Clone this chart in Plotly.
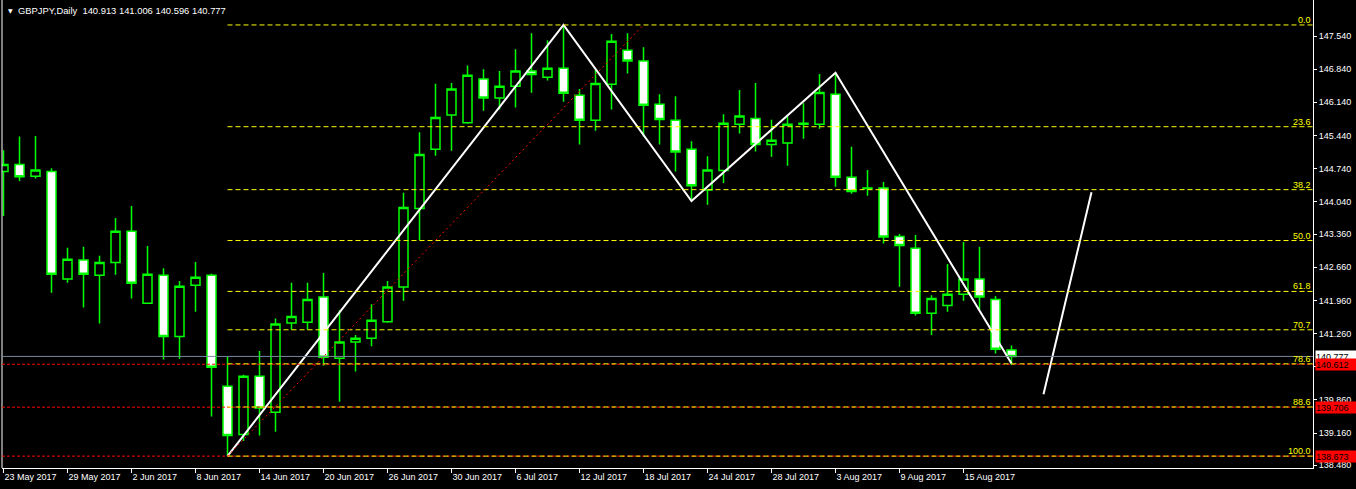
import plotly.graph_objects as go

# ---------------- data ----------------
bars = list(range(64))
opens = [144.68, 144.83, 144.58, 144.68, 142.41, 142.81, 142.49, 142.76, 143.42, 141.90,
         142.49, 141.20, 142.28, 142.49, 140.15, 139.13, 140.36, 139.60, 141.48, 141.50,
         142.03, 140.74, 141.08, 141.16, 141.51, 142.24, 143.90, 145.15, 145.87, 145.71,
         146.63, 146.23, 146.48, 146.80, 146.67, 146.86, 146.29, 145.76, 146.52, 147.24,
         147.01, 146.10, 145.76, 145.15, 144.29, 144.70, 145.68, 145.80, 145.25, 145.28,
         145.68, 145.68, 146.31, 144.56, 144.33, 144.33, 143.31, 143.06, 141.69, 141.85,
         142.09, 142.41, 141.98, 140.913]
highs = [145.13, 145.42, 145.43, 144.75, 143.07, 143.09, 142.90, 143.70, 143.95, 143.11,
         142.64, 142.37, 142.77, 142.52, 140.77, 140.39, 140.89, 141.58, 142.33, 142.33,
         142.54, 141.75, 141.23, 141.88, 142.37, 144.23, 145.51, 146.53, 146.55, 146.92,
         146.84, 146.80, 147.26, 147.60, 147.45, 147.773, 146.42, 146.82, 147.58, 147.60,
         147.30, 146.31, 146.27, 145.32, 145.00, 145.89, 146.40, 146.55, 145.77, 145.85,
         146.12, 146.74, 146.765, 145.20, 144.71, 144.46, 143.36, 143.34, 142.07, 142.73,
         143.19, 143.09, 142.05, 141.006]
lows = [143.74, 144.48, 144.53, 142.12, 142.33, 141.81, 141.47, 142.50, 142.00, 141.90,
        140.71, 140.73, 141.72, 139.51, 138.673, 138.99, 139.11, 139.19, 141.34, 141.34,
        140.58, 139.82, 140.46, 140.99, 141.49, 141.95, 143.23, 145.01, 145.12, 145.69,
        145.96, 145.99, 146.03, 146.34, 146.60, 146.15, 145.25, 145.54, 145.99, 146.75,
        145.42, 145.25, 144.68, 144.06, 143.98, 144.44, 145.48, 145.10, 144.99, 144.80,
        145.37, 145.58, 144.36, 144.21, 144.17, 143.16, 142.25, 141.64, 141.23, 141.72,
        141.95, 141.76, 140.84, 140.596]
closes = [144.83, 144.57, 144.71, 142.51, 142.83, 142.51, 142.76, 143.42, 142.32, 142.51,
          141.20, 142.26, 142.45, 140.55, 139.11, 140.36, 139.69, 141.46, 141.62, 141.98,
          140.76, 141.08, 141.16, 141.54, 142.24, 143.92, 145.04, 145.82, 146.42, 146.71,
          146.23, 146.48, 146.80, 146.73, 146.86, 146.33, 145.76, 146.54, 147.43, 147.01,
          146.08, 145.78, 145.09, 144.38, 144.71, 145.70, 145.85, 145.25, 145.34, 145.68,
          145.70, 146.35, 144.56, 144.26, 144.32, 143.30, 143.12, 141.69, 142.00, 142.09,
          142.41, 142.03, 140.93, 140.777]

tick_bars = [0, 4, 8, 12, 16, 20, 24, 28, 32, 36, 40, 44, 48, 52, 56, 60]
tick_dates = ["23 May 2017", "29 May 2017", "2 Jun 2017", "8 Jun 2017", "14 Jun 2017",
              "20 Jun 2017", "26 Jun 2017", "30 Jun 2017", "6 Jul 2017", "12 Jul 2017",
              "18 Jul 2017", "24 Jul 2017", "28 Jul 2017", "3 Aug 2017", "9 Aug 2017",
              "15 Aug 2017"]
price_ticks = [147.540, 146.840, 146.140, 145.440, 144.740, 144.040, 143.360,
               142.660, 141.960, 141.260, 140.560, 139.860, 139.160, 138.480]

fib_high = 147.773
fib_low = 138.673
fib_start_bar = 14
fib_end_bar = 40
fib_levels = [0.0, 23.6, 38.2, 50.0, 61.8, 70.7, 78.6, 88.6, 100.0]

zigzag_bars = [14, 35, 43, 52, 63]
zigzag_prices = [138.673, 147.773, 144.058, 146.765, 140.63]
proj_bars = [65, 68]
proj_prices = [139.978, 144.241]

hline_prices = [140.612, 139.706, 138.673]
bid_price = 140.777
title_text = "GBPJPY,Daily  140.913 141.006 140.596 140.777"

# ---------------- figure ----------------
x_range = [-0.094, 81.844]
y_range = [138.4223, 148.2998]
FONT = "Liberation Sans, Arial, sans-serif"
LIME = "#00FF00"

fig = go.Figure()
fig.add_trace(go.Candlestick(
    x=bars, open=opens, high=highs, low=lows, close=closes,
    increasing=dict(line=dict(color=LIME, width=1.5), fillcolor="#000000"),
    decreasing=dict(line=dict(color=LIME, width=1.5), fillcolor="#FFFFFF"),
    whiskerwidth=0, hoverinfo="skip",
))

shapes = []
# left border
shapes.append(dict(type="line", xref="paper", yref="paper", x0=0, x1=0, y0=0, y1=1,
                   line=dict(color="#FFFFFF", width=1)))
# bid line
shapes.append(dict(type="line", xref="paper", yref="y", x0=0, x1=1, y0=bid_price, y1=bid_price,
                   line=dict(color="#778899", width=1)))
# red horizontal lines
for p in hline_prices:
    shapes.append(dict(type="line", xref="paper", yref="y", x0=0, x1=1, y0=p, y1=p,
                       line=dict(color="#FF0000", width=1, dash="3px,2px")))
# fibonacci levels
fib_prices = [fib_high - lv / 100.0 * (fib_high - fib_low) for lv in fib_levels]
for p in fib_prices:
    shapes.append(dict(type="line", xref="x", yref="y", x0=fib_start_bar, x1=x_range[1],
                       y0=p, y1=p, line=dict(color="#FFFF00", width=1, dash="5px,3px")))
# fibonacci anchor line (red dotted)
shapes.append(dict(type="line", xref="x", yref="y", x0=fib_start_bar, x1=fib_end_bar,
                   y0=fib_low, y1=fib_high, line=dict(color="#FF0000", width=1, dash="2px,3px")))

fig.add_trace(go.Scatter(x=zigzag_bars, y=zigzag_prices, mode="lines",
                         line=dict(color="#FFFFFF", width=2), hoverinfo="skip"))
fig.add_trace(go.Scatter(x=proj_bars, y=proj_prices, mode="lines",
                         line=dict(color="#FFFFFF", width=2), hoverinfo="skip"))

annotations = []
for lv, p in zip(fib_levels, fib_prices):
    annotations.append(dict(xref="paper", yref="y", x=1, y=p, xanchor="right", yanchor="bottom",
                            xshift=-1, yshift=-1, text=f"{lv:.1f}", showarrow=False,
                            font=dict(color="#FFFF00", size=9, family=FONT), borderpad=0))
# bid label (white)
annotations.append(dict(xref="paper", yref="y", x=1, y=bid_price, xanchor="left", yanchor="middle",
                        xshift=2, text=f"{bid_price:.3f}", showarrow=False, bgcolor="#FFFFFF",
                        font=dict(color="#000000", size=9, family=FONT), width=41, height=11,
                        align="left", borderpad=0))
for p in hline_prices:
    annotations.append(dict(xref="paper", yref="y", x=1, y=p, xanchor="left", yanchor="middle",
                            xshift=2, text=f"{p:.3f}", showarrow=False, bgcolor="#FF0000",
                            font=dict(color="#000000", size=9, family=FONT), width=41, height=11,
                            align="left", borderpad=0))
# title
annotations.append(dict(xref="paper", yref="paper", x=0, y=1, xanchor="left", yanchor="top",
                        xshift=4, yshift=-5, text="▼", showarrow=False,
                        font=dict(color="#FFFFFF", size=6, family="DejaVu Sans")))
annotations.append(dict(xref="paper", yref="paper", x=0, y=1, xanchor="left", yanchor="top",
                        xshift=14, yshift=-3, text=title_text, showarrow=False,
                        font=dict(color="#FFFFFF", size=9.4, family=FONT)))

fig.update_layout(
    width=1356, height=489,
    margin=dict(l=2, r=43, t=0, b=21, pad=0),
    paper_bgcolor="#000000", plot_bgcolor="#000000",
    showlegend=False,
    boxgap=0.4375, boxgroupgap=0,
    shapes=shapes, annotations=annotations,
    xaxis=dict(range=x_range, tickvals=tick_bars, ticktext=tick_dates,
               ticks="outside", ticklen=4, tickcolor="#FFFFFF", tickwidth=1,
               showline=True, linecolor="#FFFFFF", linewidth=1,
               showgrid=False, zeroline=False, ticklabelposition="outside right",
               tickfont=dict(color="#FFFFFF", size=9, family=FONT),
               rangeslider=dict(visible=False), fixedrange=True),
    yaxis=dict(range=y_range, side="right", tickvals=price_ticks,
               ticktext=[f"{v:.3f}" for v in price_ticks],
               ticks="outside", ticklen=3, tickcolor="#FFFFFF", tickwidth=1,
               showline=True, linecolor="#FFFFFF", linewidth=1,
               showgrid=False, zeroline=False,
               tickfont=dict(color="#FFFFFF", size=9, family=FONT), fixedrange=True),
)

fig.write_html("out.html", config={"displayModeBar": False},
               post_script="document.body.style.margin='0';document.body.style.background='#000';")
